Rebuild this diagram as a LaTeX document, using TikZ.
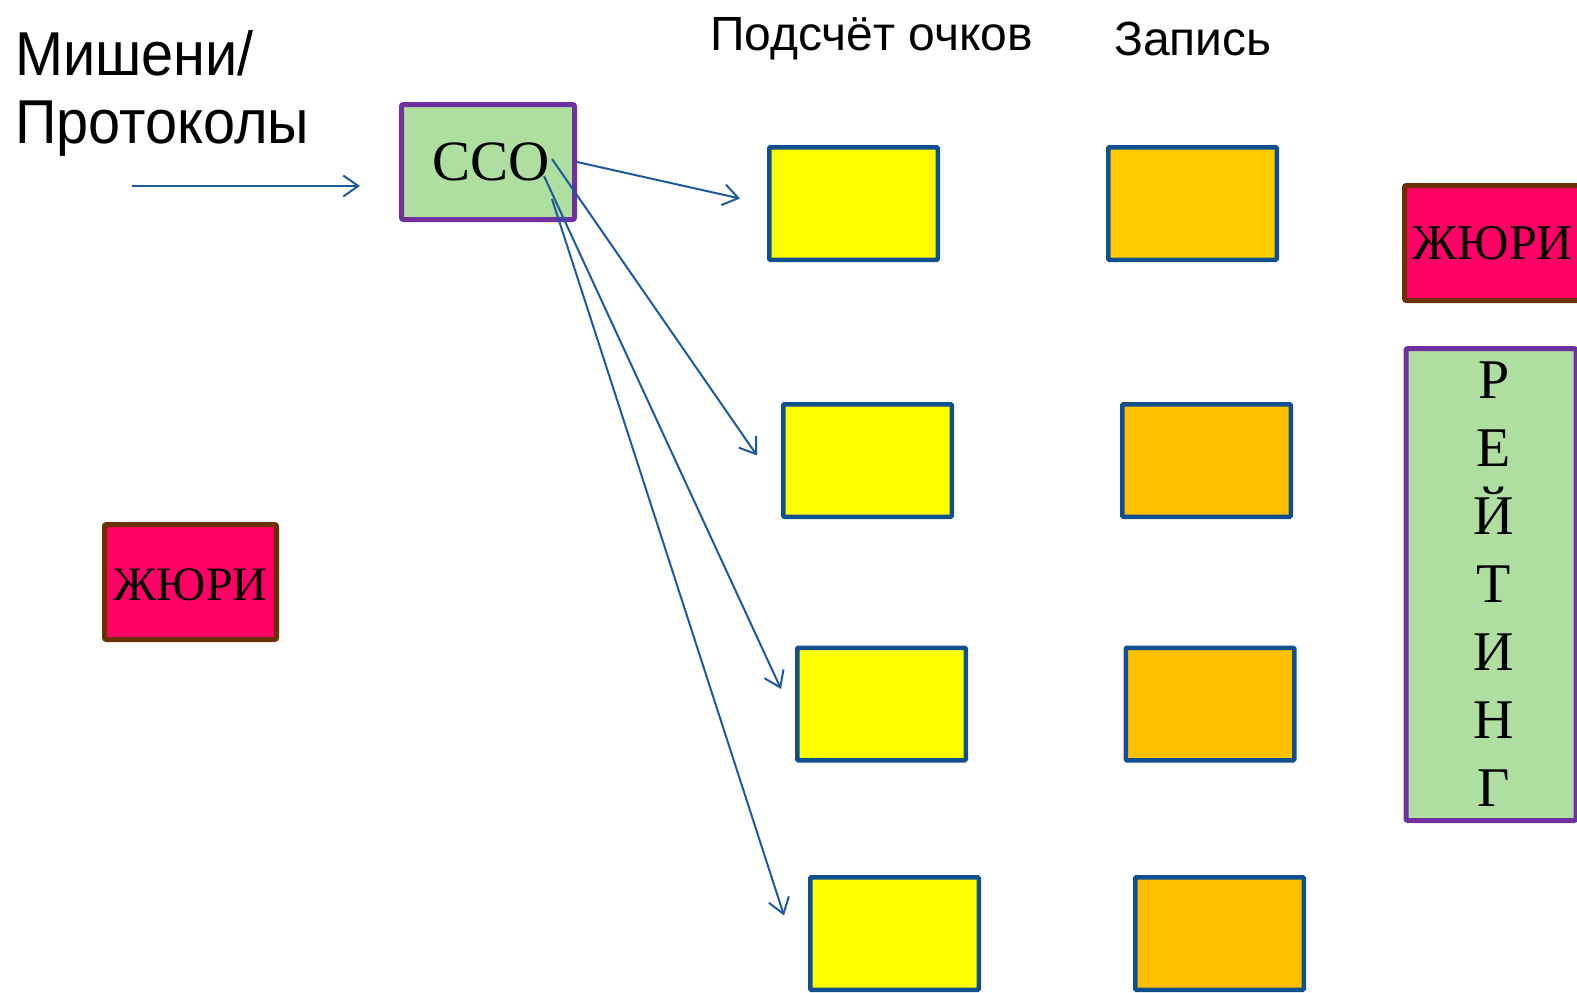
\documentclass[tikz,border=0pt]{standalone}
\usepackage{fontspec}
\setmainfont{Liberation Serif}
\newfontfamily\labelfont{Liberation Sans}
\newfontfamily\narrowfont[FakeStretch=0.93]{Liberation Sans}
\usetikzlibrary{arrows.meta}
\definecolor{boxgreen}{HTML}{AEDEA0}
\definecolor{boxpurple}{HTML}{7030A0}
\definecolor{boxpink}{HTML}{FF0066}
\definecolor{boxbrown}{HTML}{6B3100}
\definecolor{boxyellow}{HTML}{FFFF00}
\definecolor{boxgold}{HTML}{FFCC00}
\definecolor{boxorange}{HTML}{FFC000}
\definecolor{boxblue}{HTML}{11508F}
\definecolor{linkblue}{HTML}{1D5A9C}
\tikzstyle{feed}=[-{Straight Barb[length=15pt,width=21pt]},line width=2pt,color=linkblue]
\tikzstyle{cell}=[draw=boxblue,line width=4.5pt,rounded corners=1pt,minimum width=168.5pt,minimum height=112.5pt,inner sep=0pt]
\tikzstyle{jury}=[draw=boxbrown,fill=boxpink,line width=5pt,rounded corners=2pt,minimum width=172pt,minimum height=115pt,inner sep=0pt,font=\fontsize{48}{56}\selectfont]

\begin{document}
\begin{tikzpicture}[x=1pt,y=-1pt]
    \useasboundingbox (0,0) rectangle (1577,993);
    \tikzstyle{head}=[anchor=base west,inner sep=0pt,font=\labelfont\fontsize{48}{56}\selectfont]

    % заголовки
    \node[anchor=base west,align=left,inner sep=0pt,font=\narrowfont\fontsize{62}{68}\selectfont] (targets) at (15,143) {Мишени/\\Протоколы};
    \node[head] (scoring) at (710,50) {Подсчёт очков};
    \node[head] (record) at (1114,55) {Запись};

    % центр
    \node[draw=boxpurple,fill=boxgreen,line width=5pt,rounded corners=2pt,minimum width=173pt,minimum height=115pt,inner sep=0pt,font=\fontsize{57}{68}\selectfont] (cco) at (488,162) {\hspace*{6pt}ССО};

    % подсчёт и запись
    \node[cell,fill=boxyellow] (y1) at (853.5,203.5) {};
    \node[cell,fill=boxyellow] (y2) at (867.5,460.5) {};
    \node[cell,fill=boxyellow] (y3) at (881.5,704) {};
    \node[cell,fill=boxyellow] (y4) at (894.5,933.5) {};
    \node[cell,fill=boxgold] (o1) at (1192.5,203.5) {};
    \node[cell,fill=boxorange] (o2) at (1206.5,460.5) {};
    \node[cell,fill=boxorange] (o3) at (1210,704) {};
    \node[cell,fill=boxorange] (o4) at (1219.5,933.5) {};

    % жюри и рейтинг
    \node[jury,text height=36pt,text depth=0pt] (juryleft) at (190.5,582) {ЖЮРИ};
    \node[jury,minimum width=177pt,font=\fontsize{50}{56}\selectfont] (juryright) at (1493,243) {ЖЮРИ};
    \node[draw=boxpurple,fill=boxgreen,line width=5pt,rounded corners=2pt,minimum width=170pt,minimum height=472pt,inner sep=0pt,align=center,font=\fontsize{56}{68}\selectfont] (rating) at (1491,584.5) {\hspace*{6pt}Р\\\hspace*{6pt}Е\\\hspace*{6pt}Й\\\hspace*{6pt}Т\\\hspace*{6pt}И\\\hspace*{6pt}Н\\\hspace*{6pt}Г};

    \coordinate (src) at (132,186);
    \draw[feed] (src) -- ([shift={(-39,24)}]cco.west);
    \draw[feed] (cco.east) -- ([shift={(-27,-5)}]y1.west);
    \draw[feed] ([shift={(64,-3)}]cco.center) -- ([shift={(-24,-5)}]y2.west);
    \draw[feed] ([shift={(56,14)}]cco.center) -- ([shift={(-14,-15)}]y3.west);
    \draw[feed] ([shift={(64,37)}]cco.center) -- ([shift={(-24,-18)}]y4.west);
\end{tikzpicture}
\end{document}
